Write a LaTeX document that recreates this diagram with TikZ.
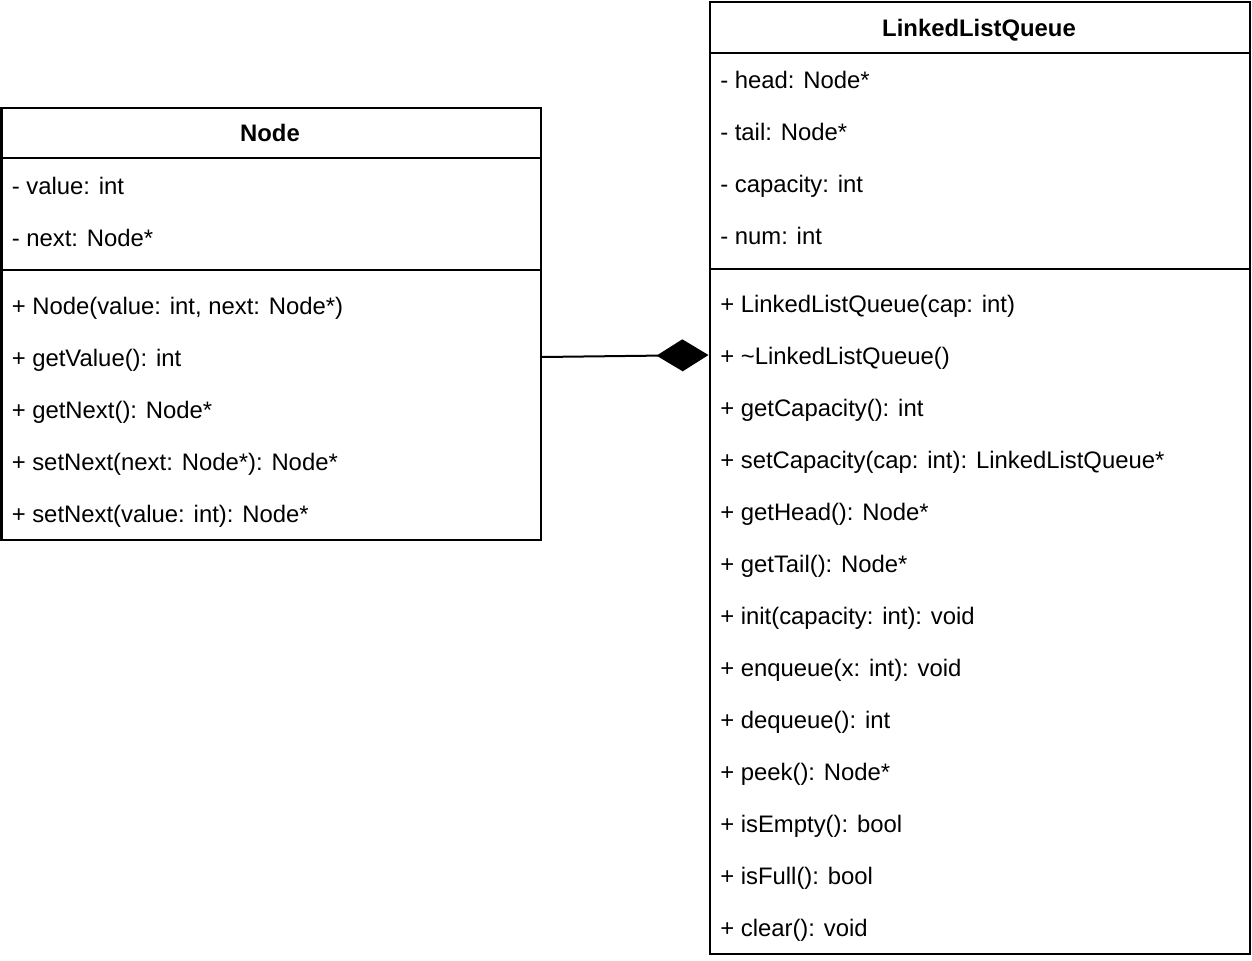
\documentclass[tikz,border=0pt]{standalone}
\usepackage{fontspec}
\setmainfont{Liberation Sans}
\usetikzlibrary{arrows.meta}
\begin{document}
\begin{tikzpicture}[x=0.75pt,y=-0.75pt,
  classbox/.style={draw=black,line width=1.5pt,inner sep=0pt,anchor=north west},
  sepline/.style={draw=black,line width=1.5pt},
  member/.style={anchor=base west,inner sep=0pt,font=\fontsize{17.9}{22}\selectfont},
  classtitle/.style={anchor=base,inner sep=0pt,font=\fontsize{17.9}{22}\selectfont\bfseries},
  compo/.style={draw=black,line width=1.5pt,-{Diamond[length=39pt,width=24pt,fill=black]}}]
\useasboundingbox[fill=white] (0,0) rectangle (1252,960);
% Node class
\node[classbox,minimum width=404.25pt,minimum height=324pt] (nodebox) at (0.5,106.5) {};
\draw[sepline] (nodebox.west |- 0,158) -- (nodebox.east |- 0,158);
\draw[sepline] (nodebox.west |- 0,270) -- (nodebox.east |- 0,270);
\node[classtitle] (nodetitle) at (270,141.5) {Node};
\node[member] (n1) at (11.5,194.5) {- value: int};
\node[member] (n2) at (11.5,246.5) {- next: Node*};
\node[member] (n3) at (11.5,314.5) {+ Node(value: int, next: Node*)};
\node[member] (n4) at (11.5,366.5) {+ getValue(): int};
\node[member] (n5) at (11.5,418.5) {+ getNext(): Node*};
\node[member] (n6) at (11.5,470.5) {+ setNext(next: Node*): Node*};
\node[member] (n7) at (11.5,522.5) {+ setNext(value: int): Node*};
% LinkedListQueue class
\node[classbox,minimum width=405pt,minimum height=714pt] (llq) at (708.5,0.5) {};
\draw[sepline] (llq.west |- 0,53) -- (llq.east |- 0,53);
\draw[sepline] (llq.west |- 0,269) -- (llq.east |- 0,269);
\node[classtitle] (llqtitle) at (979,36.5) {LinkedListQueue};
\node[member] (q1) at (720,88.5) {- head: Node*};
\node[member] (q2) at (720,140.5) {- tail: Node*};
\node[member] (q3) at (720,192.5) {- capacity: int};
\node[member] (q4) at (720,244.5) {- num: int};
\node[member] (m1) at (720,312.5) {+ LinkedListQueue(cap: int)};
\node[member] (m2) at (720,364.5) {+ \textasciitilde LinkedListQueue()};
\node[member] (m3) at (720,416.5) {+ getCapacity(): int};
\node[member] (m4) at (720,468.5) {+ setCapacity(cap: int): LinkedListQueue*};
\node[member] (m5) at (720,520.5) {+ getHead(): Node*};
\node[member] (m6) at (720,572.5) {+ getTail(): Node*};
\node[member] (m7) at (720,624.5) {+ init(capacity: int): void};
\node[member] (m8) at (720,676.5) {+ enqueue(x: int): void};
\node[member] (m9) at (720,728.5) {+ dequeue(): int};
\node[member] (m10) at (720,780.5) {+ peek(): Node*};
\node[member] (m11) at (720,832.5) {+ isEmpty(): bool};
\node[member] (m12) at (720,884.5) {+ isFull(): bool};
\node[member] (m13) at (720,936.5) {+ clear(): void};
% composition
\draw[compo] (nodebox.east |- 0,357) -- (llq.west |- 0,355);
\end{tikzpicture}
\end{document}
